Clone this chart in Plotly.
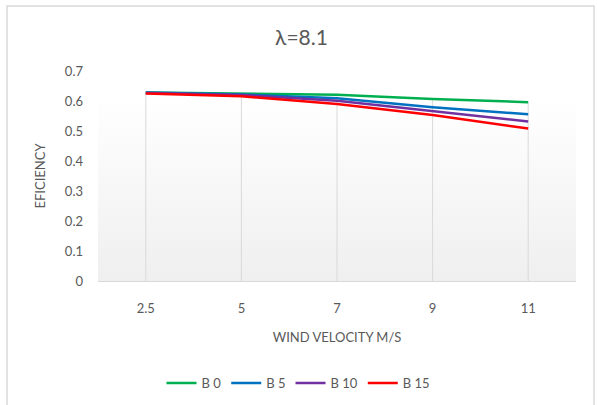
import plotly.graph_objects as go
import base64

categories = ["2.5", "5", "7", "9", "11"]
series_names = ["B 0", "B 5", "B 10", "B 15"]
b0 = [0.628, 0.624, 0.621, 0.607, 0.596]
b5 = [0.628, 0.622, 0.609, 0.579, 0.556]
b10 = [0.627, 0.620, 0.601, 0.567, 0.532]
b15 = [0.625, 0.616, 0.590, 0.553, 0.508]
colors = ["#00B050", "#0070C0", "#7030A0", "#FF0000"]
y_ticks = [0, 0.1, 0.2, 0.3, 0.4, 0.5, 0.6, 0.7]

FONT = "Lato, 'Open Sans', sans-serif"
GRAY = "#595959"

fig = go.Figure()

# drop lines from the highest series point down to the axis
all_series = [b0, b5, b10, b15]
dx, dy = [], []
for i, c in enumerate(categories):
    top = max(s[i] for s in all_series)
    dx += [c, c, None]
    dy += [0, top, None]
fig.add_trace(go.Scatter(x=dx, y=dy, mode="lines", line=dict(color="#d9d9d9", width=1),
                         showlegend=False, hoverinfo="skip"))

for name, vals, col in zip(series_names, all_series, colors):
    fig.add_trace(go.Scatter(x=categories, y=vals, mode="lines", name=name,
                             line=dict(color=col, width=2.5)))

svg = ('<svg xmlns="http://www.w3.org/2000/svg" width="100" height="100" preserveAspectRatio="none">'
       '<defs><linearGradient id="g" x1="0" y1="0" x2="0" y2="1">'
       '<stop offset="0" stop-color="#ffffff"/><stop offset="0.15" stop-color="#ffffff"/>'
       '<stop offset="1" stop-color="#efefef"/></linearGradient></defs>'
       '<rect width="100" height="100" fill="url(#g)"/></svg>')
src = "data:image/svg+xml;base64," + base64.b64encode(svg.encode()).decode()

fig.update_layout(
    width=597, height=405,
    margin=dict(l=98, r=21, t=71, b=124),
    paper_bgcolor="white", plot_bgcolor="rgba(0,0,0,0)",
    font=dict(family=FONT, color=GRAY, size=13),
    title=dict(text="λ=8.1", x=0.505, xanchor="center", xref="container",
               y=1 - 38 / 405, yanchor="middle", yref="container",
               font=dict(size=21, color=GRAY, family=FONT)),
    xaxis=dict(type="category", range=[-0.5, 4.5], showgrid=False, zeroline=False,
               showline=True, linecolor="#d9d9d9", linewidth=1, ticks="",
               ticklabelstandoff=15, tickfont=dict(size=13, color=GRAY),
               title=dict(text="WIND VELOCITY M/S", standoff=18,
                          font=dict(size=13, color=GRAY))),
    yaxis=dict(range=[0, 0.7], tickvals=y_ticks, ticktext=[f"{v:g}" for v in y_ticks],
               showgrid=False, zeroline=False, showline=False, ticks="",
               ticklabelstandoff=14, tickfont=dict(size=13, color=GRAY),
               title=dict(text="EFICIENCY", standoff=16,
                          font=dict(size=13, color=GRAY))),
    legend=dict(orientation="h", x=0.5, xanchor="center", xref="container",
                y=1 - 383 / 405, yanchor="middle", yref="container",
                font=dict(size=13, color=GRAY), bgcolor="rgba(0,0,0,0)"),
    images=[dict(source=src, xref="paper", yref="paper", x=0, y=1.04, sizex=1, sizey=1.04,
                 xanchor="left", yanchor="top", sizing="stretch", layer="below")],
    shapes=[dict(type="rect", xref="paper", yref="paper",
                 x0=(7 - 98) / 478, x1=(594 - 98) / 478,
                 y0=(281 - 410) / 210, y1=(281 - 6) / 210,
                 line=dict(color="#d9d9d9", width=1.5), fillcolor="rgba(0,0,0,0)",
                 layer="below")],
    showlegend=True,
)

fig.write_html("out.html")
